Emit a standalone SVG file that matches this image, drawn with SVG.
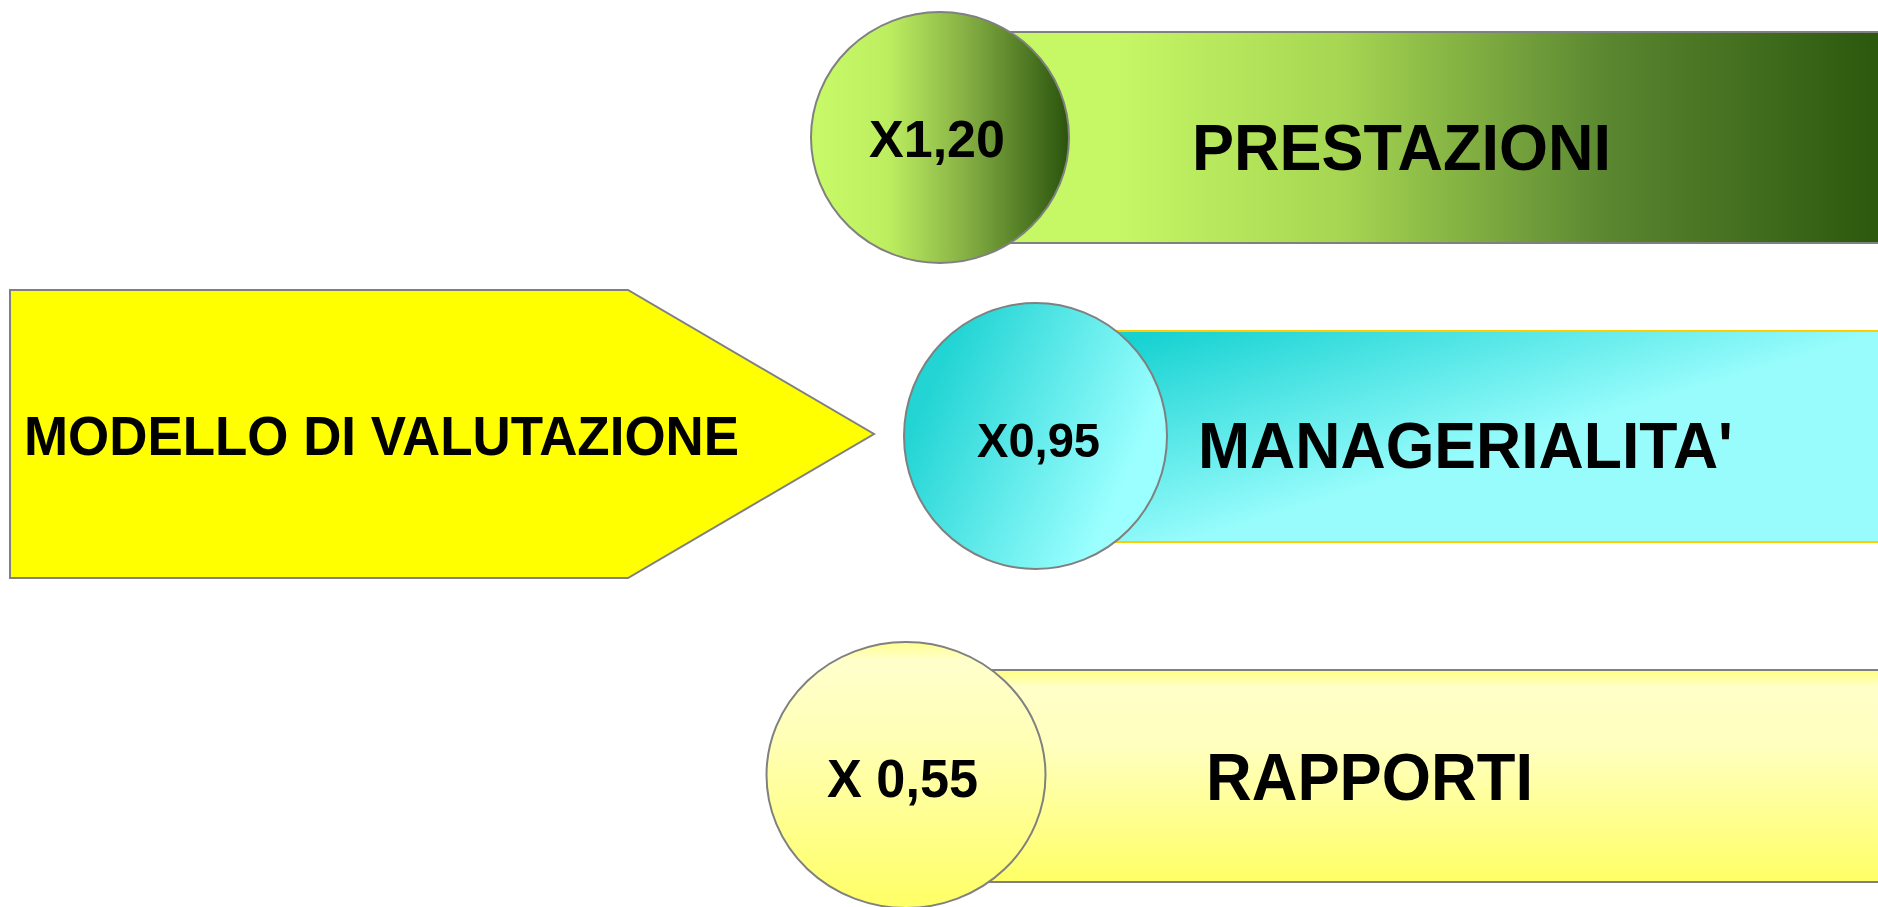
<svg xmlns="http://www.w3.org/2000/svg" width="1878" height="907" viewBox="0 0 1878 907">
<style>
text{font-family:"Liberation Sans",Arial,sans-serif;font-weight:bold;fill:#000}
.gray{stroke:#808080;stroke-width:2}
</style>
<defs>
<linearGradient id="gBar1" gradientUnits="userSpaceOnUse" x1="1110" y1="0" x2="1878" y2="0">
<stop offset="0" stop-color="#C6F866"/>
<stop offset="0.3" stop-color="#A6D652"/>
<stop offset="0.65" stop-color="#5A8630"/>
<stop offset="1" stop-color="#2C580E"/>
</linearGradient>
<linearGradient id="gCirc1" x1="0" y1="0" x2="1" y2="0">
<stop offset="0" stop-color="#C8FA68"/>
<stop offset="0.3" stop-color="#BDEE60"/>
<stop offset="0.6" stop-color="#86B044"/>
<stop offset="1" stop-color="#2A540C"/>
</linearGradient>
<linearGradient id="gBar2" gradientUnits="userSpaceOnUse" x1="1150" y1="335" x2="1210" y2="535">
<stop offset="0" stop-color="#18D2D2"/>
<stop offset="1" stop-color="#98FCFC"/>
</linearGradient>
<linearGradient id="gCirc2" x1="0.15" y1="0.2" x2="0.9" y2="0.55">
<stop offset="0" stop-color="#22D4D4"/>
<stop offset="1" stop-color="#9CFFFF"/>
</linearGradient>
<linearGradient id="gBar3" x1="0" y1="0" x2="0" y2="1">
<stop offset="0" stop-color="#FFFF80"/>
<stop offset="0.08" stop-color="#FFFFC8"/>
<stop offset="0.35" stop-color="#FFFFC0"/>
<stop offset="1" stop-color="#FFFF66"/>
</linearGradient>
<linearGradient id="gCirc3" x1="0" y1="0" x2="0" y2="1">
<stop offset="0" stop-color="#FFFF90"/>
<stop offset="0.07" stop-color="#FFFFCC"/>
<stop offset="0.35" stop-color="#FFFFB8"/>
<stop offset="1" stop-color="#FFFF66"/>
</linearGradient>
</defs>
<rect width="1878" height="907" fill="#FFFFFF"/>

<g id="modello">
<polygon points="10,290 628,290 874,434 628,578 10,578" fill="#FFFF00" class="gray"/>
<text x="24" y="455" font-size="55" textLength="715" lengthAdjust="spacingAndGlyphs">MODELLO DI VALUTAZIONE</text>
</g>

<g id="prestazioni">
<rect x="940" y="32" width="960" height="211" fill="url(#gBar1)" class="gray"/>
<ellipse cx="940" cy="137.5" rx="129" ry="125.5" fill="url(#gCirc1)" class="gray"/>
<text x="869" y="157" font-size="52" textLength="136" lengthAdjust="spacingAndGlyphs">X1,20</text>
<text x="1192" y="170" font-size="64" textLength="419" lengthAdjust="spacingAndGlyphs">PRESTAZIONI</text>
</g>

<g id="managerialita">
<rect x="1035" y="331" width="900" height="211" fill="url(#gBar2)" stroke="#FFCC00" stroke-width="2"/>
<ellipse cx="1035.5" cy="436" rx="131.5" ry="133" fill="url(#gCirc2)" class="gray"/>
<text x="977" y="457" font-size="49" textLength="123" lengthAdjust="spacingAndGlyphs">X0,95</text>
<text x="1198" y="468" font-size="64" textLength="535" lengthAdjust="spacingAndGlyphs">MANAGERIALITA'</text>
</g>

<g id="rapporti">
<rect x="906" y="670" width="1000" height="212" fill="url(#gBar3)" class="gray"/>
<ellipse cx="906" cy="775" rx="139.5" ry="133" fill="url(#gCirc3)" class="gray"/>
<text x="827" y="797" font-size="54" textLength="151" lengthAdjust="spacingAndGlyphs">X 0,55</text>
<text x="1206" y="800" font-size="66" textLength="327" lengthAdjust="spacingAndGlyphs">RAPPORTI</text>
</g>

<g id="connectors"></g>
</svg>
